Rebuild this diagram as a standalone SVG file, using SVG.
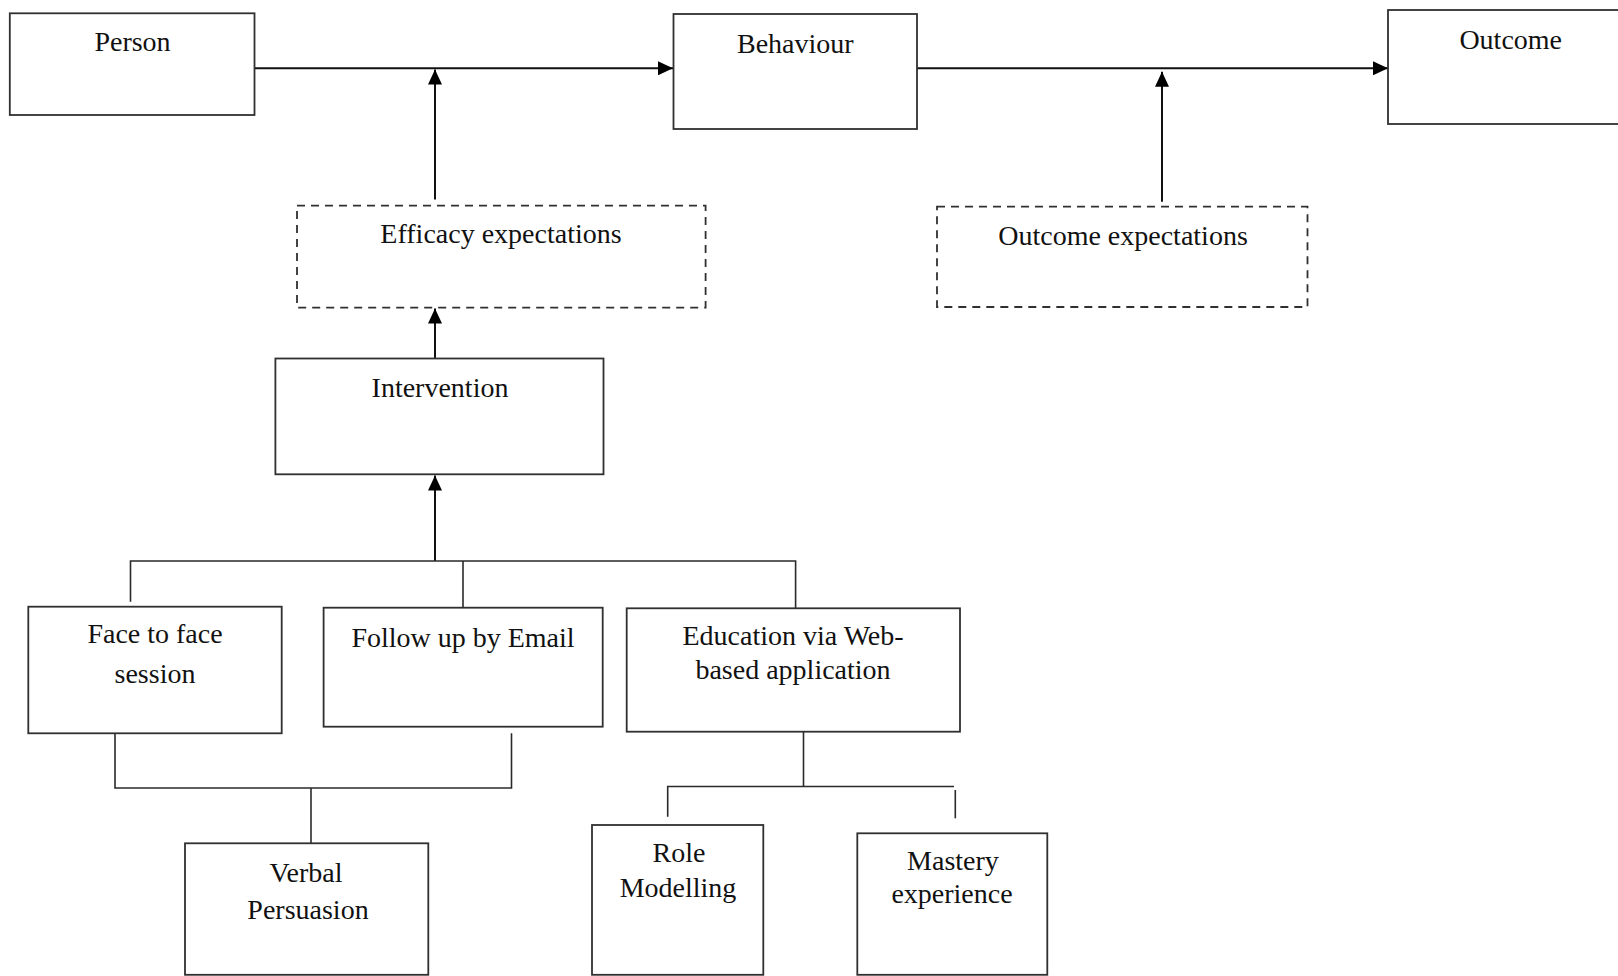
<svg xmlns="http://www.w3.org/2000/svg" width="1618" height="976" viewBox="0 0 1618 976">
<style>
.box{fill:#fff;stroke:#303030;stroke-width:1.8}
.dash{fill:#fff;stroke:#303030;stroke-width:1.8;stroke-dasharray:8 6}
.lbl{font-family:"Liberation Serif","Times New Roman",serif;font-size:28px;fill:#111;text-anchor:middle}
.con{fill:none;stroke:#111;stroke-width:2}
.thin{fill:none;stroke:#2a2a2a;stroke-width:1.6}
</style>
<defs>
<marker id="ah" viewBox="0 0 15 14" refX="15" refY="7" markerWidth="15" markerHeight="14" markerUnits="userSpaceOnUse" orient="auto">
<path d="M0,0 L15,7 L0,14 z" fill="#000"/>
</marker>
</defs>
<rect width="1618" height="976" fill="#fff"/>
<g id="connectors">
<path class="con" d="M254.5,68.3 H673" marker-end="url(#ah)"/>
<path class="con" d="M917,68.3 H1388" marker-end="url(#ah)"/>
<path class="con" d="M435,199.5 V69.5" marker-end="url(#ah)"/>
<path class="con" d="M1162,201.7 V71.7" marker-end="url(#ah)"/>
<path class="con" d="M435,358.5 V308.5" marker-end="url(#ah)"/>
<path class="con" d="M435,561 V475.5" marker-end="url(#ah)"/>
<path class="thin" d="M130.5,601.7 V561 H795.6 V608.3"/>
<path class="thin" d="M463,561 V607.7"/>
<path class="thin" d="M115,733.3 V788 H511.5 V733.3"/>
<path class="thin" d="M311,788 V843.3"/>
<path class="thin" d="M803.5,731.7 V786.5"/>
<path class="thin" d="M667.7,816.7 V786.5 H954"/>
<path class="thin" d="M955.3,790 V818.3"/>
</g>
<g id="person">
<rect class="box" x="9.8" y="13.3" width="244.7" height="101.7"/>
<text class="lbl" x="132.5" y="50.7">Person</text>
</g>
<g id="behaviour">
<rect class="box" x="673.5" y="14" width="243.5" height="115"/>
<text class="lbl" x="795.3" y="52.7">Behaviour</text>
</g>
<g id="outcome">
<rect class="box" x="1388" y="10" width="240" height="114"/>
<text class="lbl" x="1510.7" y="49.3">Outcome</text>
</g>
<g id="efficacy-expectations">
<rect class="dash" x="297" y="205.7" width="408.6" height="102"/>
<text class="lbl" x="501" y="243.3">Efficacy expectations</text>
</g>
<g id="outcome-expectations">
<rect class="dash" x="937" y="206.7" width="370.5" height="100.3"/>
<text class="lbl" x="1123" y="245">Outcome expectations</text>
</g>
<g id="intervention">
<rect class="box" x="275.4" y="358.5" width="328.1" height="115.8"/>
<text class="lbl" x="440" y="396.7">Intervention</text>
</g>
<g id="face-to-face">
<rect class="box" x="28.3" y="606.7" width="253.4" height="126.6"/>
<text class="lbl" x="155" y="643.3">Face to face</text>
<text class="lbl" x="155" y="683.3">session</text>
</g>
<g id="follow-up">
<rect class="box" x="323.6" y="607.7" width="279.1" height="119"/>
<text class="lbl" x="463" y="646.7">Follow up by Email</text>
</g>
<g id="education">
<rect class="box" x="626.7" y="608.3" width="333.3" height="123.4"/>
<text class="lbl" x="793" y="645">Education via Web-</text>
<text class="lbl" x="793" y="679.3">based application</text>
</g>
<g id="verbal-persuasion">
<rect class="box" x="185" y="843.3" width="243.3" height="131.5"/>
<text class="lbl" x="306" y="881.7">Verbal</text>
<text class="lbl" x="308" y="919.3">Persuasion</text>
</g>
<g id="role-modelling">
<rect class="box" x="592" y="825" width="171.3" height="149.8"/>
<text class="lbl" x="679" y="861.7">Role</text>
<text class="lbl" x="678" y="897.3">Modelling</text>
</g>
<g id="mastery-experience">
<rect class="box" x="857.3" y="833.3" width="190" height="141.5"/>
<text class="lbl" x="953" y="870">Mastery</text>
<text class="lbl" x="952" y="903.3">experience</text>
</g>
</svg>
